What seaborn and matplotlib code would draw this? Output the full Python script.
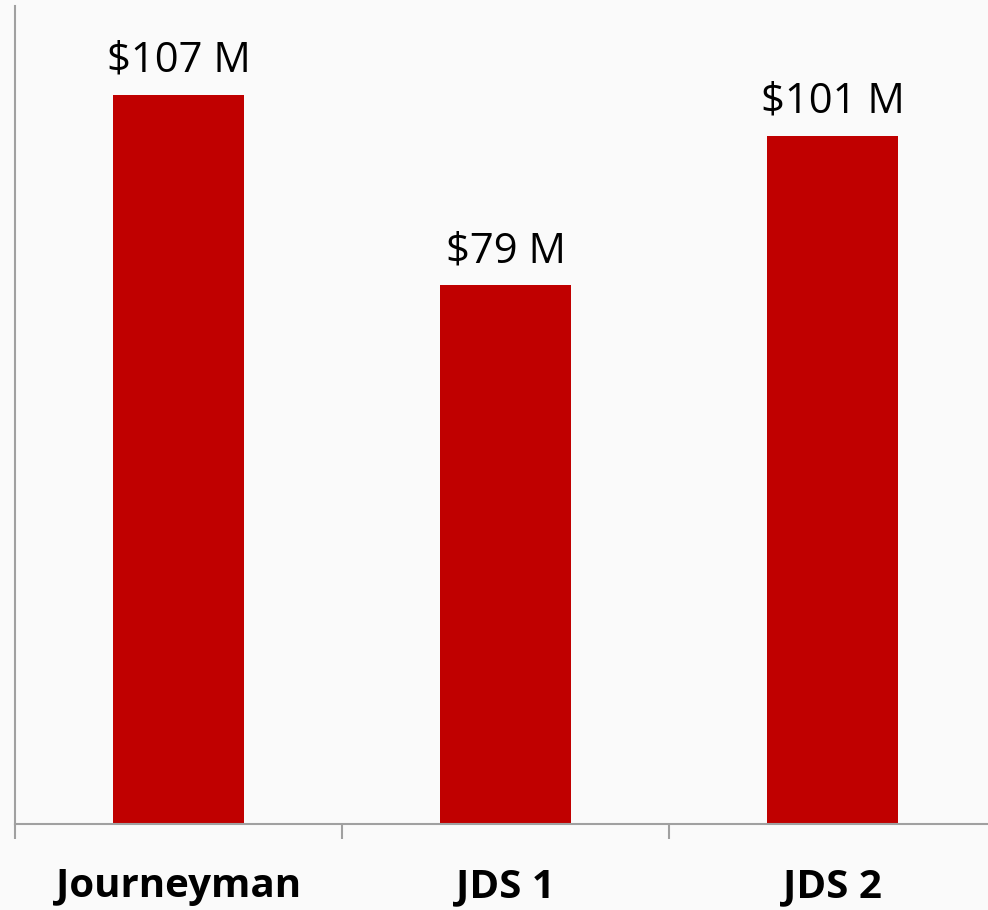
import matplotlib
matplotlib.use("Agg")
import matplotlib.pyplot as plt
import seaborn as sns
import pandas as pd
from matplotlib.ticker import FixedLocator

# Program cost comparison (millions of dollars)
categories = ["Journeyman", "JDS 1", "JDS 2"]
costs = [107, 79, 101]
value_labels = ["$107 M", "$79 M", "$101 M"]

df = pd.DataFrame({"program": categories, "cost": costs})

sns.set_theme(style="white")
plt.rcParams["font.family"] = ["Open Sans", "DejaVu Sans"]

W, H = 988, 910
fig = plt.figure(figsize=(W / 100, H / 100), dpi=100)
fig.patch.set_facecolor("#fafafa")
ax = fig.add_axes([15 / W, (H - 824) / H, 981 / W, (824 - 6) / H])
ax.set_facecolor("#fafafa")

sns.barplot(data=df, x="program", y="cost", color="#C00000", saturation=1,
            width=0.4, ax=ax, edgecolor="none")

ax.set_xlim(-0.5, 2.5)
ax.set_ylim(0, 120)

for patch, lab in zip(ax.patches, value_labels):
    ax.annotate(lab, (patch.get_x() + patch.get_width() / 2, patch.get_height()),
                xytext=(0, 16.5), textcoords="offset points",
                ha="center", va="baseline", fontsize=30, color="black")

ax.set_xlabel("")
ax.set_ylabel("")
ax.set_yticks([])
ax.tick_params(axis="x", which="major", length=0, pad=31,
               labelsize=29, labelcolor="black")
for t in ax.get_xticklabels():
    t.set_fontweight("bold")
ax.xaxis.set_minor_locator(FixedLocator([-0.5, 0.5, 1.5, 2.5]))
ax.tick_params(axis="x", which="minor", length=11, width=1.5,
               color="#a0a0a0", direction="out", bottom=True)

for side in ["top", "right"]:
    ax.spines[side].set_visible(False)
for side in ["left", "bottom"]:
    ax.spines[side].set_color("#a0a0a0")
    ax.spines[side].set_linewidth(1.5)

fig.savefig("out.png", dpi=100, facecolor=fig.get_facecolor())
